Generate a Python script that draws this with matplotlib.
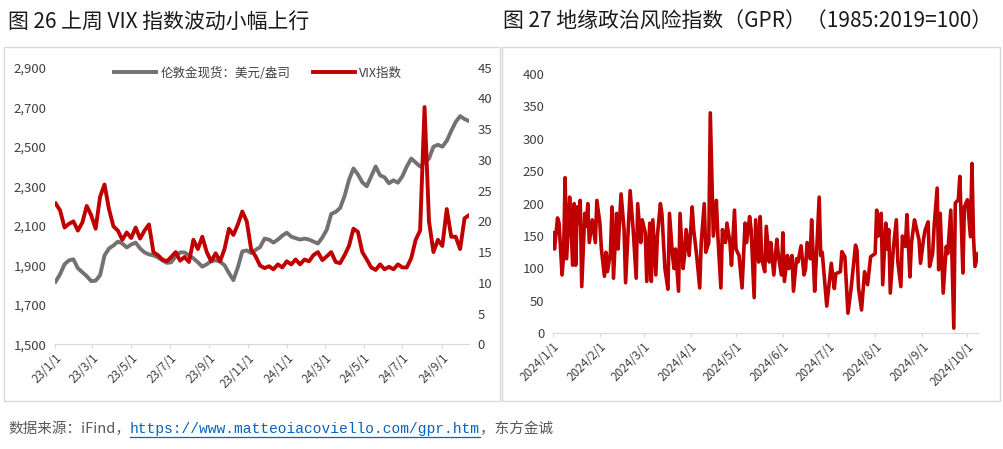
import matplotlib
matplotlib.use("Agg")
import matplotlib.pyplot as plt
import pandas as pd
from matplotlib.lines import Line2D
from matplotlib.patches import Rectangle
from matplotlib.ticker import FuncFormatter, MultipleLocator

plt.rcParams["font.family"] = ["Noto Sans CJK SC", "DejaVu Sans"]

# ---- 图26: weekly London gold spot (USD/oz) and VIX, 2023-01 .. 2024-10
week_start = "2023-01-02"
gold = [1817, 1855, 1905, 1925, 1930, 1885, 1865, 1845, 1820, 1822,
        1850, 1950, 1985, 2000, 2020, 2010, 1990, 2005, 2015, 1985,
        1965, 1955, 1950, 1940, 1925, 1912, 1915, 1945, 1965, 1965,
        1950, 1935, 1915, 1893, 1905, 1922, 1925, 1918, 1900, 1860,
        1825, 1890, 1970, 1975, 1962, 1978, 1992, 2035, 2030, 2015,
        2030, 2050, 2065, 2045, 2037, 2030, 2035, 2030, 2020, 2010,
        2040, 2080, 2160, 2170, 2190, 2250, 2332, 2390, 2360, 2320,
        2300, 2350, 2400, 2355, 2345, 2315, 2330, 2318, 2350, 2400,
        2440, 2420, 2400, 2420, 2440, 2500, 2510, 2500, 2530, 2580,
        2625, 2655, 2640, 2630]
vix = [22.9, 21.8, 19.0, 19.6, 20.0, 18.5, 19.8, 22.5, 21.0, 18.8,
       24.0, 26.0, 22.0, 19.2, 18.5, 17.0, 18.2, 17.3, 19.0, 17.2,
       18.5, 19.5, 15.0, 14.5, 13.8, 13.5, 14.2, 15.0, 13.6, 14.2,
       13.4, 17.0, 15.5, 17.5, 15.0, 13.5, 14.8, 13.5, 15.5, 18.8,
       17.8, 19.5, 21.6, 20.0, 15.4, 14.3, 12.8, 12.4, 12.7, 12.2,
       13.0, 12.5, 13.5, 13.0, 13.8, 13.0, 13.8, 13.5, 14.5, 15.0,
       13.7, 14.3, 15.0, 13.4, 13.2, 14.5, 16.0, 18.8, 18.3, 15.0,
       13.8, 12.5, 12.1, 13.0, 12.2, 12.6, 12.2, 13.0, 12.5, 12.5,
       14.0, 17.0, 18.5, 38.6, 20.0, 15.0, 17.0, 16.0, 22.0, 17.5,
       17.5, 15.5, 20.5, 21.0]
gold_ticks = [1500, 1700, 1900, 2100, 2300, 2500, 2700, 2900]
left_ticks = ["2023-01-01", "2023-03-01", "2023-05-01", "2023-07-01", "2023-09-01",
              "2023-11-01", "2024-01-01", "2024-03-01", "2024-05-01", "2024-07-01",
              "2024-09-01"]

# ---- 图27: daily geopolitical risk index, 2024 (turning points)
gpr_dates = ["01-01", "01-02", "01-04", "01-05", "01-07", "01-08", "01-09", "01-10", "01-12", "01-13",
             "01-14", "01-15", "01-16", "01-17", "01-18", "01-19", "01-20", "01-22", "01-23", "01-24",
             "01-25", "01-27", "01-29", "01-30", "02-01", "02-02", "02-04", "02-05", "02-06", "02-08",
             "02-09", "02-10", "02-12", "02-13", "02-15", "02-17", "02-18", "02-20", "02-21", "02-23",
             "02-25", "02-26", "02-28", "02-29", "03-02", "03-03", "03-05", "03-06", "03-07", "03-09",
             "03-10", "03-12", "03-13", "03-15", "03-17", "03-18", "03-20", "03-21", "03-22", "03-24",
             "03-25", "03-27", "03-28", "03-29", "03-31", "04-02", "04-03", "04-05", "04-07", "04-08",
             "04-10", "04-11", "04-13", "04-14", "04-16", "04-18", "04-19", "04-21", "04-22", "04-24",
             "04-25", "04-27", "04-28", "04-30", "05-01", "05-03", "05-05", "05-07", "05-08", "05-10",
             "05-11", "05-13", "05-14", "05-16", "05-17", "05-18", "05-20", "05-21", "05-23", "05-24",
             "05-26", "05-28", "05-29", "05-31", "06-01", "06-02", "06-04", "06-05", "06-07", "06-08",
             "06-10", "06-11", "06-13", "06-15", "06-16", "06-17", "06-19", "06-20", "06-22", "06-23",
             "06-25", "06-26", "06-27", "06-30", "07-03", "07-05", "07-06", "07-09", "07-10", "07-12",
             "07-14", "07-16", "07-19", "07-20", "07-21", "07-23", "07-25", "07-27", "07-29", "08-01",
             "08-02", "08-03", "08-05", "08-06", "08-08", "08-09", "08-10", "08-11", "08-13", "08-15",
             "08-16", "08-18", "08-19", "08-21", "08-22", "08-24", "08-25", "08-27", "08-28", "08-30",
             "08-31", "09-02", "09-03", "09-05", "09-06", "09-08", "09-09", "09-11", "09-12", "09-13",
             "09-15", "09-17", "09-18", "09-20", "09-22", "09-23", "09-25", "09-26", "09-28", "09-29",
             "10-01", "10-03", "10-04", "10-05", "10-06", "10-08"]
gpr_values = [155, 130, 178, 170, 90, 120, 240, 115, 210, 160,
              105, 200, 105, 195, 170, 205, 72, 185, 165, 200,
              140, 175, 140, 205, 170, 130, 88, 125, 95, 125,
              195, 85, 185, 130, 215, 160, 78, 175, 220, 160,
              85, 200, 140, 175, 155, 80, 170, 80, 175, 90,
              150, 200, 185, 100, 68, 185, 120, 100, 130, 65,
              185, 100, 120, 160, 120, 195, 160, 120, 70, 140,
              200, 125, 140, 340, 150, 205, 150, 70, 160, 140,
              170, 140, 105, 190, 130, 120, 70, 170, 140, 180,
              160, 55, 175, 110, 180, 115, 95, 165, 110, 140,
              90, 145, 120, 90, 155, 80, 120, 100, 120, 65,
              115, 110, 135, 90, 100, 140, 115, 175, 65, 110,
              210, 120, 125, 42, 108, 69, 92, 95, 126, 118,
              31, 67, 136, 128, 70, 36, 95, 75, 118, 123,
              190, 150, 185, 75, 170, 130, 160, 62, 130, 175,
              110, 72, 150, 134, 183, 87, 139, 175, 165, 144,
              108, 145, 159, 172, 103, 123, 165, 224, 98, 185,
              62, 134, 123, 190, 8, 201, 206, 242, 93, 195,
              206, 149, 262, 150, 103, 123]

GOLD_C = "#767171"
RED = "#C00000"
TXT = "#404040"
BOX = "#d9d9d9"
W, H = 1004, 449

fig = plt.figure(figsize=(W / 100, H / 100), dpi=100)

# panel frames
for x0, x1 in [(4, 500), (502, 1000)]:
    fig.add_artist(Rectangle((x0 / W, 1 - 401 / H), (x1 - x0) / W, (401 - 47) / H,
                             transform=fig.transFigure, fill=False, edgecolor=BOX, lw=1))

fig.text(8 / W, 1 - 22 / H, "图 26 上周 VIX 指数波动小幅上行", fontsize=15,
         color="#1a1a1a", va="center", ha="left")
fig.text(503 / W, 1 - 22 / H, "图 27 地缘政治风险指数（GPR）（1985:2019=100）", fontsize=15,
         color="#1a1a1a", va="center", ha="left")


def style_axes(ax):
    for s in ["top", "left", "right"]:
        ax.spines[s].set_visible(False)
    ax.spines["bottom"].set_color(BOX)
    ax.tick_params(axis="x", length=3, color=BOX, labelsize=8.5, labelcolor=TXT, pad=2)
    ax.tick_params(axis="y", length=0, labelsize=9.5, labelcolor=TXT, pad=6)


# ---- left panel
wk = pd.date_range(week_start, periods=len(gold), freq="7D")
ax1 = fig.add_axes([55 / W, 1 - 344.3 / H, (469 - 55) / W, (344.3 - 67.7) / H])
ax2 = ax1.twinx()
l1, = ax1.plot(wk, gold, color=GOLD_C, lw=2.8, solid_joinstyle="round")
l2, = ax2.plot(wk, vix, color=RED, lw=2.8, solid_joinstyle="round")
ax1.set_ylim(1500, 2900)
ax1.set_yticks(gold_ticks)
ax1.yaxis.set_major_formatter(FuncFormatter(lambda v, p: f"{v:,.0f}"))
ax2.set_ylim(0, 45)
ax2.yaxis.set_major_locator(MultipleLocator(5))
ax1.set_xlim(pd.Timestamp("2023-01-01"), wk[-1])
lt = pd.to_datetime(left_ticks)
ax1.set_xticks(lt)
ax1.set_xticklabels([f"{d.year % 100}/{d.month}/{d.day}" for d in lt],
                    rotation=45, ha="right", rotation_mode="anchor")
style_axes(ax1)
style_axes(ax2)
ax2.tick_params(axis="x", length=0)
ax1.legend([l1, l2], ["伦敦金现货：美元/盎司", "VIX指数"], loc="upper center",
           bbox_to_anchor=(0.49, 1.045), ncol=2, frameon=False, fontsize=9,
           handlelength=3.4, columnspacing=1.8, handletextpad=0.3, labelcolor=TXT)

# ---- right panel
gd = pd.to_datetime(["2024-" + d for d in gpr_dates])
ax3 = fig.add_axes([553 / W, 1 - 333.3 / H, (978 - 553) / W, (333.3 - 74) / H])
ax3.plot(gd, gpr_values, color=RED, lw=2.6, solid_joinstyle="round")
ax3.set_ylim(0, 400)
ax3.yaxis.set_major_locator(MultipleLocator(50))
ax3.set_xlim(pd.Timestamp("2024-01-01"), gd[-1])
rt = pd.date_range("2024-01-01", "2024-10-01", freq="MS")
ax3.set_xticks(rt)
ax3.set_xticklabels([f"{d.year}/{d.month}/{d.day}" for d in rt],
                    rotation=45, ha="right", rotation_mode="anchor")
style_axes(ax3)

# ---- source line
renderer = fig.canvas.get_renderer()
ys = 1 - 429 / H
t1 = fig.text(8 / W, ys, "数据来源：iFind，", fontsize=10.5, color="#595959", va="center")
bb = t1.get_window_extent(renderer)
t2 = fig.text(bb.x1 / W, ys, "https://www.matteoiacoviello.com/gpr.htm", fontsize=10.5,
              color="#0563C1", va="center", family="Liberation Mono")
bb2 = t2.get_window_extent(renderer)
fig.add_artist(Line2D([bb2.x0 / W, bb2.x1 / W], [(bb2.y0 - 1) / H] * 2,
                      transform=fig.transFigure, color="#0563C1", lw=0.9))
fig.text(bb2.x1 / W, ys, "，东方金诚", fontsize=10.5, color="#595959", va="center")

fig.savefig("out.png", dpi=100)
